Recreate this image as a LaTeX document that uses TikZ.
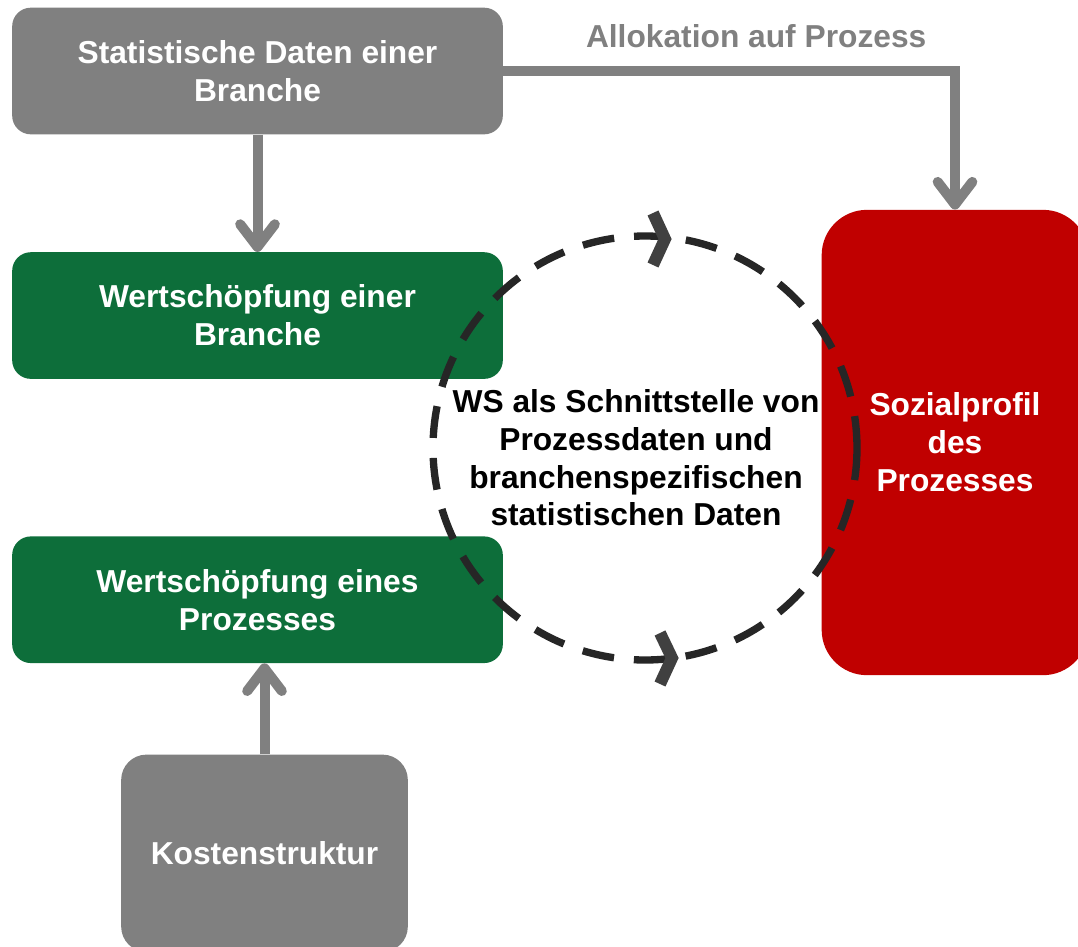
\documentclass[tikz,border=0pt]{standalone}
\usepackage{fontspec}
\setmainfont{Liberation Sans}
\usetikzlibrary{arrows.meta,positioning,calc}
\definecolor{boxgray}{RGB}{128,128,128}
\definecolor{boxgreen}{RGB}{13,110,58}
\definecolor{boxred}{RGB}{192,0,0}
\definecolor{ringgray}{RGB}{38,38,38}
\definecolor{tipgray}{RGB}{64,64,64}

\begin{document}
\begin{tikzpicture}[x=0.75pt,y=-0.75pt,>={Straight Barb[round,length=17pt,width=26pt]}]
  \tikzstyle{box}=[rectangle,rounded corners=14pt,text=white,align=center,font=\bfseries\fontsize{23.8}{28.5}\selectfont,minimum width=368pt,minimum height=95pt]
  \tikzstyle{flow}=[draw=boxgray,line width=7.5pt]
  \tikzstyle{ring}=[circle,draw=ringgray,line width=5.5pt,dash pattern=on 24pt off 15pt,minimum size=318pt]
  \tikzstyle{chev}=[draw=tipgray,line width=9pt,miter limit=10]
  \tikzstyle{texto}=[align=center,font=\bfseries\fontsize{23.8}{28.2}\selectfont]

  \useasboundingbox (0,0) rectangle (1078,946);

  \node [box,fill=boxgray] (stat) at (257.5,71) {Statistische Daten einer\\Branche};

  \node [box,fill=boxgreen] (wsbranche) [below=88pt of stat] {Wertschöpfung einer\\Branche};

  \node [box,fill=boxgreen] (wsprozess) [below=117.75pt of wsbranche] {Wertschöpfung eines\\Prozesses};

  \node [box,fill=boxgray,rounded corners=19pt,minimum width=215pt,minimum height=148pt] (kosten) [below=68.25pt of wsprozess,xshift=5.25pt] {Kostenstruktur};

  \node [box,fill=boxred,rounded corners=34pt,minimum width=200pt,minimum height=349pt] (sozial) at (955,442.5) {Sozialprofil\\des\\Prozesses};

  % Verbindungen
  \draw [flow,->] (stat) -- (wsbranche);
  \draw [flow,->] (kosten.north) -- (kosten.north |- wsprozess.south);
  \draw [flow,->] (stat.east) -| (sozial.north)
    node [texto,pos=0.28,above=10pt,text=boxgray] (alloc) {Allokation auf Prozess};

  % Schnittstelle
  \node [ring] (ws) at (645,448) {};
  \node [texto] (wstext) at ($(ws.center)+(-9,10)$) {WS als Schnittstelle von\\Prozessdaten und\\branchenspezifischen\\statistischen Daten};
  \draw [chev] ($(ws.center)+(8,-235)$) -- ($(ws.center)+(20,-209)$) -- ($(ws.center)+(8,-183)$);
  \draw [chev] ($(ws.center)+(15,185)$) -- ($(ws.center)+(27,210)$) -- ($(ws.center)+(15,236)$);
\end{tikzpicture}
\end{document}
